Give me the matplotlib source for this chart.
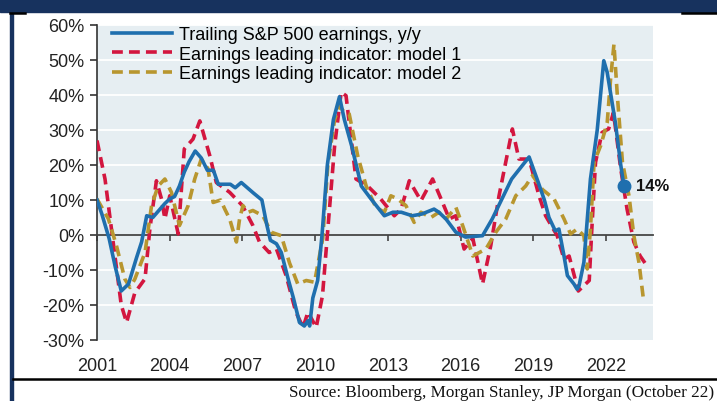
import numpy as np
import matplotlib
matplotlib.use("Agg")
import matplotlib.pyplot as plt
from matplotlib.patches import Rectangle
from matplotlib.lines import Line2D

plt.rcParams["font.family"] = ["Liberation Sans", "DejaVu Sans"]

# -----------------------------------------------
# data (decimal years / % y/y)
# -----------------------------------------------
blue_x = [2001.0, 2001.2, 2001.5, 2001.75, 2002.0, 2002.3, 2002.63, 2002.84, 2003.05,
          2003.3, 2003.55, 2003.8, 2004.0, 2004.2, 2004.4, 2004.6, 2004.8, 2005.05,
          2005.3, 2005.55, 2005.8, 2006.0, 2006.5, 2006.7, 2006.95, 2007.45, 2007.8,
          2008.0, 2008.15, 2008.4, 2008.6, 2008.9, 2009.1, 2009.35, 2009.55, 2009.7,
          2009.77, 2009.9, 2010.1, 2010.28, 2010.5, 2010.75, 2011.0, 2011.2, 2011.5,
          2011.9, 2012.3, 2012.85, 2013.2, 2013.55, 2014.0, 2014.4, 2014.9, 2015.1,
          2015.4, 2015.8, 2016.2, 2016.9, 2017.3, 2018.1, 2018.82, 2019.2, 2019.45,
          2019.64, 2019.9, 2020.05, 2020.26, 2020.4, 2020.67, 2020.8, 2020.88,
          2021.08, 2021.35, 2021.63, 2021.9, 2022.04, 2022.38, 2022.6, 2022.73]
blue_y = [10, 6, -1, -9, -16, -14, -6.5, -2, 5.5,
          5, 7, 9, 10.3, 11, 14, 18, 21, 24,
          22, 18.5, 18.5, 14.5, 14.5, 13.5, 15, 12, 10,
          3, -1.5, -2.5, -5, -13, -18, -25, -26, -24.5,
          -26, -18, -13, 0, 20, 33, 39.5, 33, 25.5,
          14, 10.3, 5.5, 6.5, 6.5, 5.5, 6, 7.4, 6.5,
          4.5, 0.8, -0.6, -0.2, 4.6, 16, 22.3, 15, 10,
          5, 1.2, 1.7, -6, -11.6, -14, -15.5, -14.5,
          -7.8, 16, 30, 49.8, 46.5, 32, 20, 14]

red_x = [2001.0, 2001.33, 2001.74, 2002.0, 2002.22, 2002.56, 2002.98, 2003.18, 2003.45,
         2003.66, 2003.8, 2004.0, 2004.35, 2004.6, 2004.96, 2005.24, 2005.65, 2005.92,
         2006.47, 2007.0, 2007.43, 2007.7, 2008.1, 2008.4, 2008.8, 2009.2, 2009.5,
         2009.7, 2010.04, 2010.3, 2010.52, 2010.8, 2011.07, 2011.27, 2011.68, 2012.16,
         2012.7, 2013.26, 2013.54, 2013.88, 2014.36, 2014.84, 2015.25, 2015.53, 2015.8,
         2016.14, 2016.5, 2016.9, 2017.24, 2017.58, 2018.13, 2018.4, 2018.82, 2019.23,
         2019.5, 2019.98, 2020.26, 2020.47, 2020.85, 2021.3, 2021.4, 2021.56, 2021.83,
         2022.1, 2022.3, 2022.6, 2022.86, 2023.14, 2023.4, 2023.6]
red_y = [27, 16, -6, -20, -25, -16.5, -12.5, 1.7, 15.5,
         10.3, 4.6, 11.2, 0.3, 24.6, 27.4, 32.6, 22.7, 15,
         12.2, 8.4, 2.7, -2, -5, -4, -11.6, -22, -26.4,
         -22, -26.4, -17.3, 1.7, 25.5, 40.8, 39.8, 16, 14,
         10.3, 5.5, 7.4, 15.5, 9.8, 16, 9.3, 4.6, 5.5,
         -4, -1, -14, -3, 11.2, 30.3, 21.7, 21.7, 11.2,
         5.5, -0.2, -6.9, -6, -16, -13, 0.8, 20.8, 29.3,
         30.3, 35, 18.9, 7.4, -2, -6, -8]

gold_x = [2001.0, 2001.47, 2001.8, 2002.15, 2002.36, 2002.56, 2002.98, 2003.25, 2003.52,
          2003.8, 2004.07, 2004.4, 2004.76, 2005.03, 2005.3, 2005.58, 2005.79, 2006.1,
          2006.27, 2006.47, 2006.75, 2006.88, 2007.02, 2007.23, 2007.43, 2007.84, 2008.18,
          2008.6, 2008.94, 2009.28, 2009.63, 2009.97, 2010.31, 2010.52, 2010.8, 2011.0,
          2011.2, 2011.4, 2011.75, 2012.1, 2012.5, 2012.85, 2013.12, 2013.4, 2013.74,
          2014.08, 2014.36, 2014.77, 2015.1, 2015.4, 2015.8, 2016.08, 2016.5, 2017.04,
          2017.45, 2017.86, 2018.27, 2018.68, 2018.96, 2019.37, 2019.85, 2020.26, 2020.53,
          2020.8, 2021.08, 2021.22, 2021.35, 2021.5, 2021.77, 2022.04, 2022.18, 2022.32,
          2022.46, 2022.67, 2022.94, 2023.14, 2023.35, 2023.55]
gold_y = [10.3, 4.6, -3, -12.6, -15, -12.6, -5, 8.4, 14,
          16, 12.2, 2.7, 8.4, 16, 21.7, 18.9, 9.3, 10,
          7.4, 4.6, -2, 4.6, 8.4, 6.5, 7, 5.5, 0.8,
          -0.2, -8, -14, -13, -13.5, -1, 20, 33, 37,
          35, 34.6, 22.7, 14, 7.9, 6.5, 11.2, 10.3, 8.4,
          3.6, 6.5, 5, 6.5, 4.6, 7.9, 2.7, -6, -4,
          0.8, 4.6, 11.2, 14, 17, 13, 10.3, 4.6, 0.3,
          1.7, -0.2, -9.7, 1.7, 20.8, 25.5, 32, 44.5, 54.5,
          39.8, 20.8, 11.2, -0.2, -7.8, -19.2]

series_labels = ["Trailing S&P 500 earnings, y/y",
                 "Earnings leading indicator: model 1",
                 "Earnings leading indicator: model 2"]
year_ticks = [2001, 2004, 2007, 2010, 2013, 2016, 2019, 2022]
pct_ticks = [-30, -20, -10, 0, 10, 20, 30, 40, 50, 60]

# -----------------------------------------------
# figure
# -----------------------------------------------
W, H = 717, 402
fig = plt.figure(figsize=(W / 100, H / 100), dpi=100)

# page decorations (cropped document frame)
fig.patches.append(Rectangle((0, 1 - 13 / H), 1, 13 / H, transform=fig.transFigure,
                             color="#17325e", zorder=0))
fig.patches.append(Rectangle((10 / W, 0), 3 / W, 1, transform=fig.transFigure,
                             color="#17325e", zorder=0))
fig.lines.append(Line2D([10 / W, 25 / W], [1 - 14 / H] * 2, transform=fig.transFigure,
                        color="black", lw=1.8))
fig.lines.append(Line2D([682 / W, 1], [1 - 14 / H] * 2, transform=fig.transFigure,
                        color="black", lw=1.8))
fig.lines.append(Line2D([13 / W, 1], [1 - 380 / H] * 2, transform=fig.transFigure,
                        color="black", lw=1.8))
fig.text(714 / W, 1 - 393 / H,
         "Source: Bloomberg, Morgan Stanley, JP Morgan (October 22)",
         ha="right", va="center", fontsize=12.3, family="Liberation Serif", color="#111")

ax = fig.add_axes([97 / W, 1 - 341 / H, (653 - 97) / W, (341 - 26) / H])
ax.set_facecolor("#e6eef2")

for v in pct_ticks[1:]:
    ax.axhline(v, color="white", lw=1.3, zorder=1)

ax.plot(blue_x, blue_y, color="#1f6fae", lw=2.6, label=series_labels[0], zorder=4)
ax.plot(red_x, red_y, color="#d3163f", lw=2.6, ls=(0, (3, 1.7)),
        label=series_labels[1], zorder=3)
ax.plot(gold_x, gold_y, color="#b8962f", lw=2.6, ls=(0, (3, 1.7)),
        label=series_labels[2], zorder=3)

# last value marker
ax.plot(blue_x[-1], blue_y[-1], "o", color="#1f6fae", ms=9, zorder=5)
ax.text(blue_x[-1] + 0.5, blue_y[-1], f"{blue_y[-1]:.0f}%", fontsize=12,
        fontweight="bold", va="center", ha="left", color="#111", clip_on=False)

ax.set_xlim(2001, 2023.93)
ax.set_ylim(-30, 60)

ax.set_yticks(pct_ticks)
ax.set_yticklabels([f"{v}%" for v in pct_ticks])
ax.tick_params(axis="y", direction="out", length=5, width=1.2, color="#333",
               labelsize=13, labelcolor="#222", pad=4)

# x axis: spine on the zero line, labels at the bottom
for s in ["top", "right"]:
    ax.spines[s].set_visible(False)
ax.spines["left"].set_color("#333")
ax.spines["left"].set_linewidth(1.2)
ax.spines["bottom"].set_position(("data", 0))
ax.spines["bottom"].set_color("#444")
ax.spines["bottom"].set_linewidth(1.3)
ax.set_xticks(year_ticks)
ax.tick_params(axis="x", direction="out", length=4, width=1.2, color="#444",
               labelbottom=False)

sec = ax.secondary_xaxis("bottom")
sec.set_xticks(year_ticks)
sec.set_xticklabels([str(y) for y in year_ticks])
sec.tick_params(length=0, labelsize=13, labelcolor="#222", pad=12)
sec.spines["bottom"].set_visible(False)

ax.legend(loc="upper left", bbox_to_anchor=(112 / W, 1 - 27 / H),
          bbox_transform=fig.transFigure, frameon=False, fontsize=13,
          handlelength=3.3, handletextpad=0.4, labelspacing=0.15,
          borderpad=0, borderaxespad=0)

plt.savefig("out.png", dpi=100)
